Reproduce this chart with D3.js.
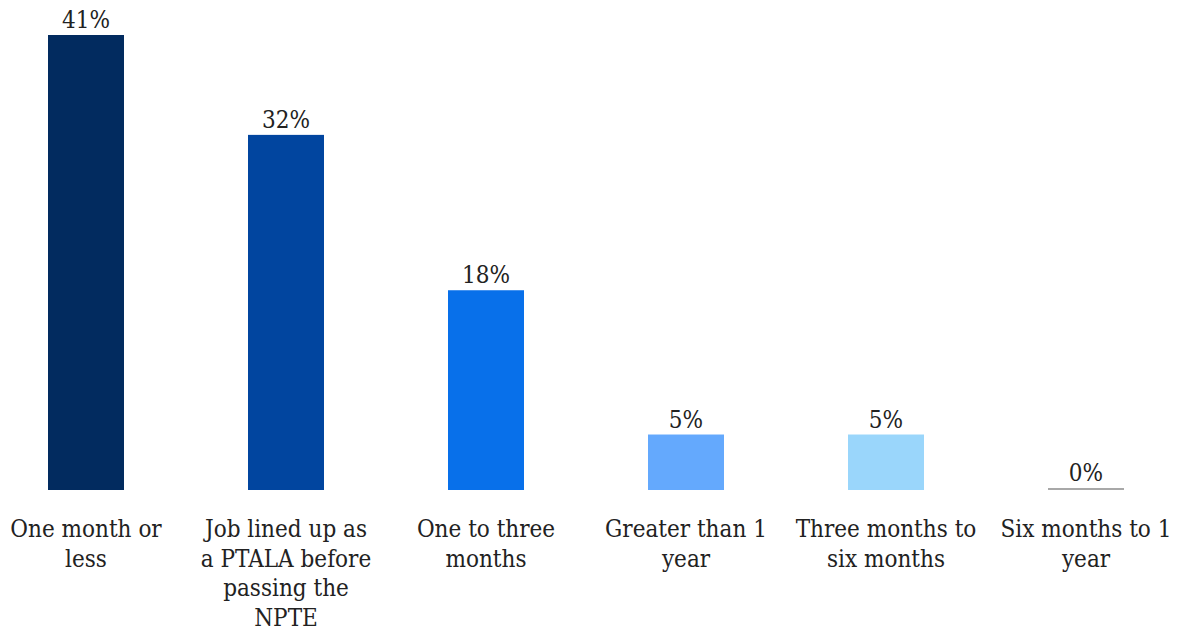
<!DOCTYPE html>
<html>
<head>
<meta charset="utf-8">
<script src="https://cdn.jsdelivr.net/npm/d3@7"></script>
<style>
  body { margin: 0; background: #fff; }
</style>
</head>
<body>
<script>
let width = 1180,
    height = 632;

let categories = ["One month or less",
                  "Job lined up as a PTALA before passing the NPTE",
                  "One to three months",
                  "Greater than 1 year",
                  "Three months to six months",
                  "Six months to 1 year"];
let values = [41, 32, 18, 5, 5, 0];
let labelLines = [["One month or", "less"],
                  ["Job lined up as", "a PTALA before", "passing the", "NPTE"],
                  ["One to three", "months"],
                  ["Greater than 1", "year"],
                  ["Three months to", "six months"],
                  ["Six months to 1", "year"]];
let colors = ["#022b5f", "#01459f", "#0870ea", "#64a9fd", "#9ad6fb", "#a8a8a8"];

let serif = "'DejaVu Serif Condensed', 'DejaVu Serif', serif";

let dataset = categories.map(function(c, i) {
    return {name: c, value: values[i], lines: labelLines[i], color: colors[i]};
});

let svg = d3.select("body")
            .append("svg")
            .attr("width", width)
            .attr("height", height);

let xScale = d3.scaleBand()
               .domain(categories)
               .range([-14, 1186])
               .paddingInner(0.62)
               .paddingOuter(0.31);

let yScale = d3.scaleLinear()
               .domain([0, 41])
               .range([490, 35]);

// bars (zero value drawn as a thin grey line)
svg.selectAll("rect.bar")
   .data(dataset)
   .enter()
   .append("rect")
   .attr("class", "bar")
   .attr("x", function(d) { return xScale(d.name); })
   .attr("y", function(d) { return d.value === 0 ? yScale(0) - 2 : yScale(d.value); })
   .attr("width", xScale.bandwidth())
   .attr("height", function(d) { return d.value === 0 ? 2 : yScale(0) - yScale(d.value); })
   .attr("fill", function(d) { return d.color; });

// value labels
svg.selectAll("text.val")
   .data(dataset)
   .enter()
   .append("text")
   .attr("class", "val")
   .attr("x", function(d) { return xScale(d.name) + xScale.bandwidth() / 2; })
   .attr("y", function(d) { return yScale(d.value) - (d.value === 0 ? 9 : 7); })
   .attr("text-anchor", "middle")
   .style("font-family", serif)
   .style("font-size", "24px")
   .style("fill", "#222")
   .text(function(d) { return d.value + "%"; });

// category labels
let labels = svg.selectAll("text.cat")
   .data(dataset)
   .enter()
   .append("text")
   .attr("class", "cat")
   .attr("text-anchor", "middle")
   .style("font-family", serif)
   .style("font-size", "24px")
   .style("fill", "#222")
   .attr("transform", function(d) {
       return "translate(" + (xScale(d.name) + xScale.bandwidth() / 2) + ",537)";
   });

labels.selectAll("tspan")
   .data(function(d) { return d.lines; })
   .enter()
   .append("tspan")
   .attr("x", 0)
   .attr("y", function(d, i) { return i * 29.5; })
   .text(function(d) { return d; });
</script>
</body>
</html>
